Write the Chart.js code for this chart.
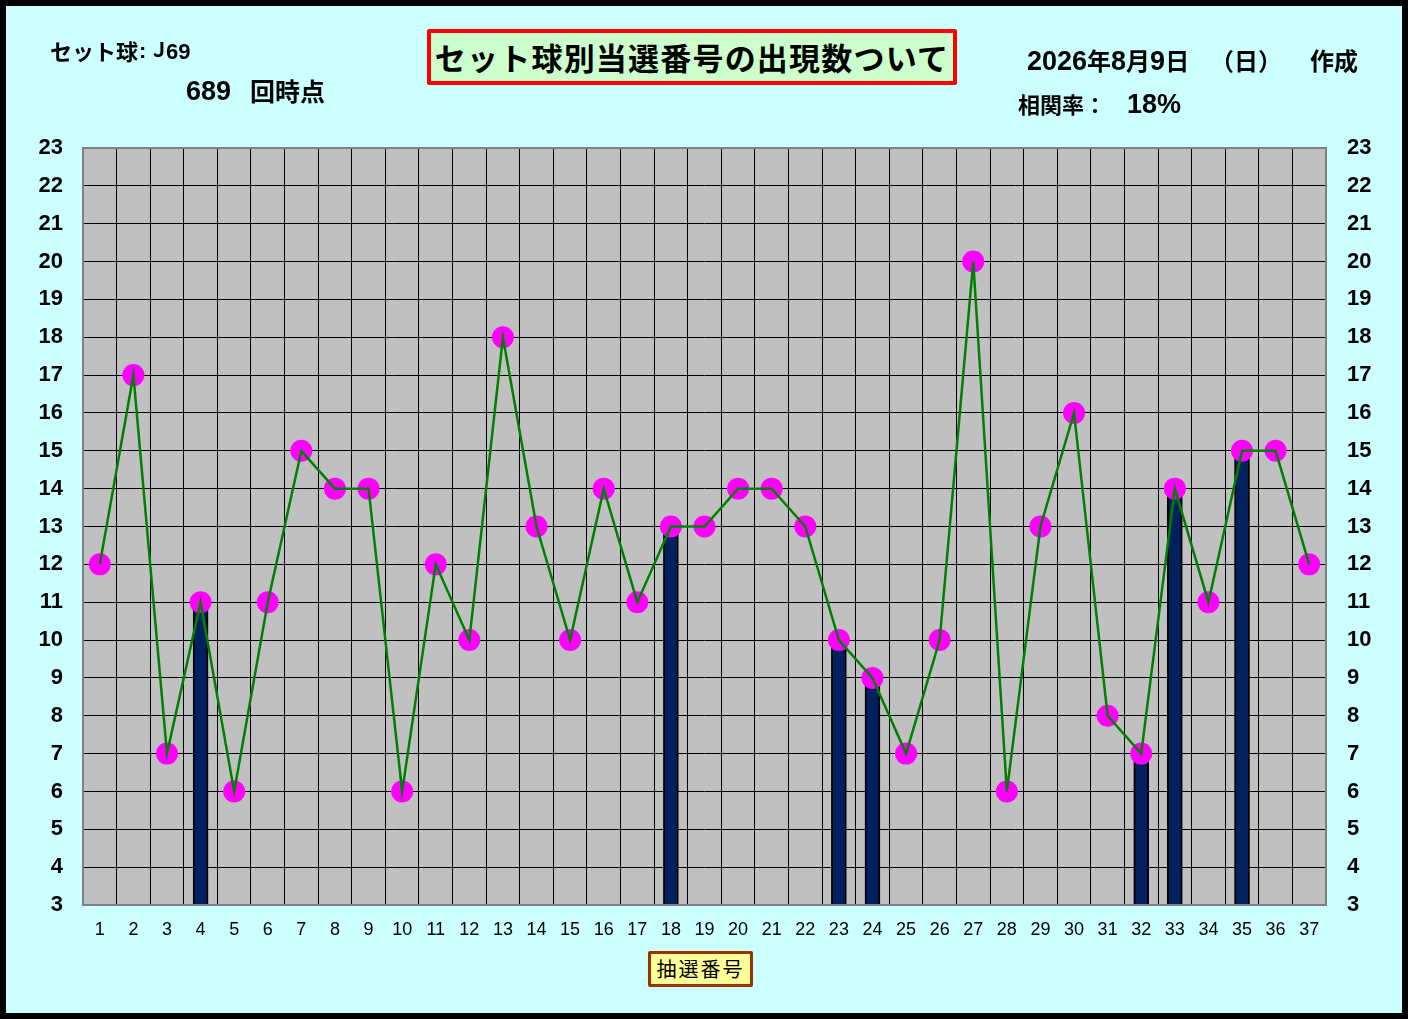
<!DOCTYPE html>
<html lang="ja">
<head>
<meta charset="utf-8">
<title>セット球別当選番号の出現数</title>
<script src="https://cdn.jsdelivr.net/npm/chart.js@4.4.1/dist/chart.umd.min.js"></script>
<style>
  html, body { margin: 0; padding: 0; }
  body { width: 1408px; height: 1019px; position: relative; overflow: hidden; background: #CCFFFF;
         font-family: "Noto Sans CJK JP", "Liberation Sans", sans-serif; color: #000; }
  #frame { position: absolute; left: 0; top: 0; width: 1408px; height: 1019px; box-sizing: border-box;
           border: 6px solid #000; pointer-events: none; z-index: 5; }
  #chart { position: absolute; left: 0; top: 0; }
  .txt { position: absolute; white-space: pre; font-weight: bold; line-height: 1; }
  .num { font-family: "Liberation Sans", sans-serif; }
  #title { position: absolute; left: 427px; top: 29px; width: 530px; height: 56px; box-sizing: border-box;
           border: 4px solid #FF0000; background: #CCFFCC; font-size: 31px; font-weight: bold;
           text-align: center; line-height: 48px; letter-spacing: 1.2px; border-radius: 2px; }
  #xtitle { position: absolute; left: 648px; top: 951px; width: 105px; height: 36px; box-sizing: border-box;
            border: 3px solid #993300; background: #FFFF99; font-size: 20px; text-align: center;
            line-height: 30px; letter-spacing: 2px; border-radius: 2px; }
</style>
</head>
<body>
<canvas id="chart" width="1408" height="1019"></canvas>
<div class="txt" style="left:50px; top:39px; font-size:22px;">セット球</div>
<div class="txt num" style="left:139px; top:40px; font-size:22px;">:</div>
<div class="txt" style="left:149px; top:39px; font-size:20px;">Ｊ</div>
<div class="txt num" style="left:166px; top:41px; font-size:22px;">69</div>
<div class="txt num" style="left:186px; top:78px; font-size:27px;">689</div>
<div class="txt" style="left:250px; top:78px; font-size:25px;">回時点</div>
<div id="title">セット球別当選番号の出現数ついて</div>
<div class="txt" style="left:1027px; top:48px; font-size:24px;"><span class="num" style="font-size:27px;">2026</span>年<span class="num" style="font-size:27px;">8</span>月<span class="num" style="font-size:27px;">9</span>日</div>
<div class="txt" style="left:1210px; top:48px; font-size:24px;">（日）</div>
<div class="txt" style="left:1310px; top:48px; font-size:24px;">作成</div>
<div class="txt" style="left:1018px; top:92px; font-size:22px;">相関率：</div>
<div class="txt num" style="left:1127px; top:91px; font-size:27px;">18%</div>
<div id="xtitle">抽選番号</div>
<div id="frame"></div>

<script>
// 抽選番号 (categories)
const numbers = ['1','2','3','4','5','6','7','8','9','10','11','12','13','14','15','16','17','18','19',
                 '20','21','22','23','24','25','26','27','28','29','30','31','32','33','34','35','36','37'];

// 出現数 for each number
const counts = [12, 17, 7, 11, 6, 11, 15, 14, 14, 6, 12, 10, 18, 13, 10, 14, 11, 13, 13,
                14, 14, 13, 10, 9, 7, 10, 20, 6, 13, 16, 8, 7, 14, 11, 15, 15, 12];

// bars only on the numbers that are marked
const marked = [null, null, null, 11, null, null, null, null, null, null, null, null, null, null, null, null, null, 13, null,
                null, null, null, 10, 9, null, null, null, null, null, null, null, 7, 14, null, 15, null, null];

const yMin = 3;
const yMax = 23;

// gray plot background and gray frame, like the excel sheet
const plotArea = {
    id: 'plotArea',
    beforeDraw(chart) {
        const { ctx, chartArea: a } = chart;
        ctx.save();
        ctx.fillStyle = '#C0C0C0';
        ctx.fillRect(a.left, a.top, a.right - a.left, a.bottom - a.top);
        ctx.restore();
    },
    afterDraw(chart) {
        const { ctx, chartArea: a } = chart;
        ctx.save();
        ctx.strokeStyle = '#808080';
        ctx.lineWidth = 2;
        ctx.strokeRect(a.left, a.top, a.right - a.left, a.bottom - a.top);
        ctx.restore();
    }
};

const tickFont = { family: 'Liberation Sans', size: 22, weight: 'bold' };

new Chart(document.getElementById('chart').getContext('2d'), {
    type: 'bar',
    data: {
        labels: numbers,
        datasets: [
            {
                type: 'line',
                data: counts,
                borderColor: '#008000',
                borderWidth: 2.5,
                pointRadius: 0,
                tension: 0,
                order: 1
            },
            {
                type: 'line',
                data: counts,
                showLine: false,
                pointRadius: 11,
                pointBackgroundColor: '#FF00FF',
                pointBorderWidth: 0,
                order: 2
            },
            {
                type: 'bar',
                data: marked,
                backgroundColor: '#002060',
                borderColor: '#000000',
                borderWidth: 2,
                borderSkipped: false,
                barThickness: 15,
                order: 3
            }
        ]
    },
    options: {
        responsive: false,
        animation: false,
        devicePixelRatio: 1,
        layout: { padding: { left: 0, right: 0, top: 148, bottom: 74 } },
        plugins: {
            legend: { display: false },
            tooltip: { enabled: false }
        },
        scales: {
            x: {
                offset: true,
                grid: { offset: true, color: '#000000', lineWidth: 1, drawTicks: false },
                border: { display: false },
                ticks: { color: '#000', font: { family: 'Liberation Sans', size: 18 }, padding: 14, maxRotation: 0 },
                afterFit(scale) { scale.height = 40; }
            },
            y: {
                position: 'left',
                min: yMin,
                max: yMax,
                grid: { color: '#000000', lineWidth: 1, drawTicks: false },
                border: { display: false },
                ticks: { stepSize: 1, color: '#000', font: tickFont, padding: 20 },
                afterFit(scale) { scale.width = 83; }
            },
            y2: {
                position: 'right',
                min: yMin,
                max: yMax,
                grid: { display: false, drawTicks: false },
                border: { display: false },
                ticks: { stepSize: 1, color: '#000', font: tickFont, padding: 21 },
                afterFit(scale) { scale.width = 82; }
            }
        }
    },
    plugins: [plotArea]
});
</script>
</body>
</html>
